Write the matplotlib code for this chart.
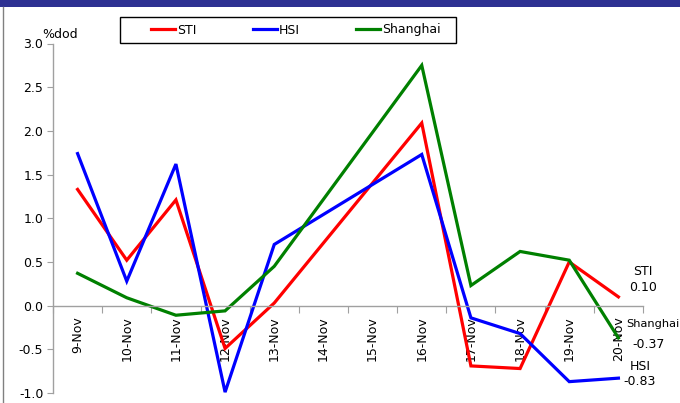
import numpy as np
import matplotlib.pyplot as plt
from matplotlib.lines import Line2D
from matplotlib.patches import Rectangle

dates = ['9-Nov', '10-Nov', '11-Nov', '12-Nov', '13-Nov', '14-Nov',
         '15-Nov', '16-Nov', '17-Nov', '18-Nov', '19-Nov', '20-Nov']
# 14-Nov / 15-Nov: no trading, the lines are joined across the gap
sti = [1.33, 0.52, 1.21, -0.49, 0.03, np.nan, np.nan, 2.09, -0.69, -0.72, 0.50, 0.10]
hsi = [1.74, 0.28, 1.62, -0.99, 0.70, np.nan, np.nan, 1.73, -0.14, -0.32, -0.87, -0.83]
shanghai = [0.37, 0.09, -0.11, -0.06, 0.45, np.nan, np.nan, 2.75, 0.23, 0.62, 0.52, -0.37]

plt.rcParams['font.family'] = ['DejaVu Sans']

fig = plt.figure(figsize=(6.8, 4.03), dpi=100)
ax = fig.add_axes([53 / 680, 10 / 403, 590 / 680, 349.5 / 403])

x = np.arange(len(dates))
series = [('STI', sti, '#ff0000'), ('HSI', hsi, '#0000ff'), ('Shanghai', shanghai, '#008000')]
handles = []
for name, vals, col in series:
    v = np.array(vals, dtype=float)
    ok = ~np.isnan(v)
    h, = ax.plot(x[ok], v[ok], color=col, lw=2.3, label=name, solid_joinstyle='miter')
    handles.append(h)

ax.set_xlim(-0.5, len(dates) - 0.5)
ax.set_ylim(-1.0, 3.0)
ax.set_yticks(np.arange(-1.0, 3.01, 0.5))
ax.set_yticklabels([f'{t:.1f}' for t in np.arange(-1.0, 3.01, 0.5)], fontsize=9)

ax.spines['top'].set_visible(False)
ax.spines['right'].set_visible(False)
ax.spines['bottom'].set_position(('data', 0))
for s in ['left', 'bottom']:
    ax.spines[s].set_color('#a0a0a0')
    ax.spines[s].set_linewidth(1)

# tick marks between categories, labels on the categories
ax.set_xticks(np.arange(-0.5, len(dates), 1.0), minor=False)
ax.set_xticklabels([])
ax.set_xticks(x, minor=True)
ax.set_xticklabels(dates, minor=True, rotation=90, fontsize=9, va='top')
ax.tick_params(axis='x', which='major', direction='out', length=5, color='#a0a0a0')
ax.tick_params(axis='x', which='minor', length=0, pad=8)
ax.tick_params(axis='y', direction='out', length=4, color='#a0a0a0', pad=3)

ax.text(-0.35, 3.03, '%dod', fontsize=9, ha='center', va='bottom')

# end-point labels
ax.text(11.5, 0.30, 'STI\n0.10', fontsize=9, ha='center', va='center', clip_on=False, linespacing=1.25)
ax.text(11.15, -0.21, 'Shanghai', fontsize=8.2, ha='left', va='center', clip_on=False)
ax.text(11.62, -0.44, '-0.37', fontsize=9, ha='center', va='center', clip_on=False)
ax.text(11.44, -0.78, 'HSI\n-0.83', fontsize=9, ha='center', va='center', clip_on=False, linespacing=1.25)

# top band and left border
fig.add_artist(Rectangle((0, 1 - 7 / 403), 1, 7 / 403, transform=fig.transFigure,
                         color='#2e3192', lw=0))
fig.add_artist(Line2D([2.5 / 680, 2.5 / 680], [0, 1 - 7 / 403], transform=fig.transFigure,
                      color='#808080', lw=1))

# legend box
fig.add_artist(Rectangle((120 / 680, 1 - 43 / 403), 336 / 680, 26 / 403, transform=fig.transFigure,
                         facecolor='white', edgecolor='black', lw=1))
fig.legend(handles=handles, loc='center left', bbox_to_anchor=(151 / 680, 1 - 30 / 403),
           ncol=3, frameon=False, fontsize=9, handlelength=1.9, handletextpad=0.15,
           columnspacing=4.55, borderpad=0, borderaxespad=0)

fig.savefig('out.png', dpi=100)
